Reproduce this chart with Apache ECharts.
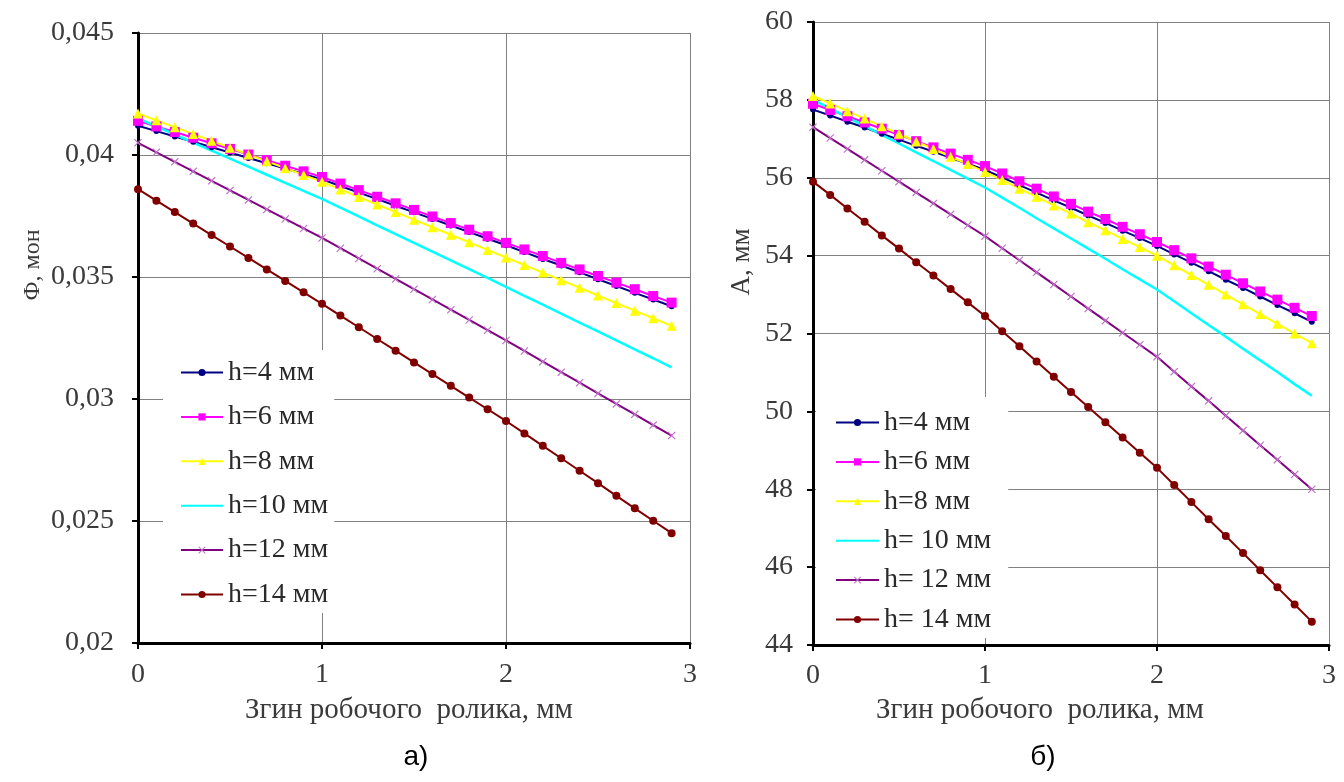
<!DOCTYPE html>
<html>
<head>
<meta charset="utf-8">
<script src="https://cdn.jsdelivr.net/npm/echarts@6/dist/echarts.min.js"></script>
<style>
html,body{margin:0;padding:0;background:#fff;}
#c{width:1344px;height:782px;}
</style>
</head>
<body>
<div id="c"></div>
<script>
// ---- data ----
const xs = [0,0.1,0.2,0.3,0.4,0.5,0.6,0.7,0.8,0.9,1.0,1.1,1.2,1.3,1.4,1.5,1.6,1.7,1.8,1.9,2.0,2.1,2.2,2.3,2.4,2.5,2.6,2.7,2.8,2.9];

const namesLeft  = ['h=4 мм','h=6 мм','h=8 мм','h=10 мм','h=12 мм','h=14 мм'];
const namesRight = ['h=4 мм','h=6 мм','h=8 мм','h= 10 мм','h= 12 мм','h= 14 мм'];

const phi4  = [0.04120,0.04098,0.04076,0.04054,0.04032,0.04010,0.03988,0.03966,0.03944,0.03922,0.03900,0.03873,0.03846,0.03819,0.03792,0.03765,0.03738,0.03711,0.03684,0.03657,0.03630,0.03602,0.03574,0.03547,0.03519,0.03491,0.03463,0.03435,0.03408,0.03380];
const phi6  = [0.04140,0.04117,0.04094,0.04071,0.04048,0.04025,0.04002,0.03979,0.03956,0.03933,0.03910,0.03883,0.03856,0.03829,0.03802,0.03775,0.03748,0.03721,0.03694,0.03667,0.03640,0.03613,0.03586,0.03558,0.03531,0.03504,0.03477,0.03450,0.03422,0.03395];
const phi8  = [0.04170,0.04142,0.04114,0.04086,0.04058,0.04030,0.04002,0.03974,0.03946,0.03918,0.03890,0.03859,0.03828,0.03797,0.03766,0.03735,0.03704,0.03673,0.03642,0.03611,0.03580,0.03549,0.03518,0.03487,0.03456,0.03424,0.03393,0.03362,0.03331,0.03300];
const phi10 = [0.04150,0.04117,0.04084,0.04051,0.04018,0.03985,0.03952,0.03919,0.03886,0.03853,0.03820,0.03784,0.03748,0.03712,0.03676,0.03640,0.03604,0.03568,0.03532,0.03496,0.03460,0.03423,0.03387,0.03350,0.03313,0.03277,0.03240,0.03203,0.03167,0.03130];
const phi12 = [0.04050,0.04011,0.03972,0.03933,0.03894,0.03855,0.03816,0.03777,0.03738,0.03699,0.03660,0.03618,0.03576,0.03534,0.03492,0.03450,0.03408,0.03366,0.03324,0.03282,0.03240,0.03197,0.03153,0.03110,0.03067,0.03023,0.02980,0.02937,0.02893,0.02850];
const phi14 = [0.03860,0.03813,0.03766,0.03719,0.03672,0.03625,0.03578,0.03531,0.03484,0.03437,0.03390,0.03342,0.03294,0.03246,0.03198,0.03150,0.03102,0.03054,0.03006,0.02958,0.02910,0.02859,0.02808,0.02757,0.02706,0.02655,0.02603,0.02552,0.02501,0.02450];

const a4  = [57.75,57.60,57.44,57.29,57.13,56.98,56.82,56.67,56.51,56.36,56.20,56.01,55.81,55.62,55.42,55.23,55.03,54.84,54.64,54.45,54.25,54.03,53.82,53.60,53.38,53.17,52.95,52.73,52.52,52.30];
const a6  = [57.90,57.74,57.58,57.42,57.26,57.10,56.94,56.78,56.62,56.46,56.30,56.11,55.91,55.72,55.52,55.33,55.13,54.94,54.74,54.55,54.35,54.14,53.93,53.72,53.51,53.29,53.08,52.87,52.66,52.45];
const a8  = [58.10,57.91,57.71,57.52,57.32,57.13,56.93,56.74,56.54,56.35,56.15,55.94,55.72,55.51,55.29,55.08,54.86,54.65,54.43,54.22,54.00,53.75,53.50,53.25,53.00,52.75,52.50,52.25,52.00,51.75];
const a10 = [58.00,57.78,57.55,57.33,57.10,56.88,56.65,56.43,56.20,55.98,55.75,55.49,55.23,54.96,54.70,54.44,54.18,53.92,53.65,53.39,53.13,52.83,52.52,52.22,51.92,51.61,51.31,51.01,50.70,50.40];
const a12 = [57.30,57.02,56.74,56.46,56.18,55.90,55.62,55.34,55.06,54.78,54.50,54.19,53.88,53.57,53.26,52.95,52.64,52.33,52.02,51.71,51.40,51.02,50.64,50.27,49.89,49.51,49.13,48.76,48.38,48.00];
const a14 = [55.90,55.56,55.21,54.87,54.52,54.18,53.83,53.49,53.14,52.80,52.45,52.06,51.67,51.28,50.89,50.50,50.11,49.72,49.33,48.94,48.55,48.11,47.67,47.23,46.80,46.36,45.92,45.48,45.04,44.60];

const xTitle = 'Згин робочого  ролика, мм';
const yTitleLeft = 'Ф, мон';
const yTitleRight = 'А, мм';
const captions = ['а)', 'б)'];

// ---- styles ----
const SERIF = '"Liberation Serif", "DejaVu Serif", serif';
const xMark = 'path://M1,0 L5,4 L9,0 L10,1 L6,5 L10,9 L9,10 L5,6 L1,10 L0,9 L4,5 L0,1 Z';
const styles = [
  {line:'#000080', sym:'circle', size:6, fill:'#000080'},
  {line:'#FF00FF', sym:'rect', size:10, fill:'#FF00FF'},
  {line:'#FFFF00', sym:'triangle', size:10, fill:'#FFFF00'},
  {line:'#00FFFF', sym:'none', size:0, fill:'#00FFFF'},
  {line:'#800080', sym:xMark, size:8, fill:'#c070c8'},
  {line:'#800000', sym:'circle', size:8, fill:'#800000'}
];
const leftData  = [phi4, phi6, phi8, phi10, phi12, phi14];
const rightData = [a4, a6, a8, a10, a12, a14];

function mkSeries(names, datas, axisIdx) {
  return datas.map((d, i) => ({
    name: names[i],
    type: 'line',
    xAxisIndex: axisIdx, yAxisIndex: axisIdx,
    data: xs.map((x, j) => [x, d[j]]),
    symbol: styles[i].sym,
    symbolSize: styles[i].size,
    showSymbol: styles[i].sym !== 'none',
    lineStyle: {color: styles[i].line, width: i === 3 ? 2.5 : 2},
    itemStyle: {color: styles[i].fill, borderWidth: 0},
    emphasis: {disabled: true},
    animation: false
  }));
}

function xAx(gridIndex, margin) {
  return {
    type: 'value', gridIndex, min: 0, max: 3, interval: 1,
    axisLine: {onZero: false, lineStyle: {color: '#000', width: 3}},
    axisTick: {show: true, length: 6, lineStyle: {color: '#000', width: 2}},
    axisLabel: {fontFamily: SERIF, fontSize: 28, color: '#3a3a3a', margin},
    splitLine: {show: true, lineStyle: {color: '#808080', width: 1}}
  };
}
function yAx(gridIndex, min, max, interval, fmt, margin) {
  return {
    type: 'value', gridIndex, min, max, interval,
    axisLine: {show: true, onZero: false, lineStyle: {color: '#000', width: 3}},
    axisTick: {show: true, length: 6, lineStyle: {color: '#000', width: 2}},
    axisLabel: {fontFamily: SERIF, fontSize: 28, color: '#3a3a3a', margin, formatter: fmt},
    splitLine: {show: true, lineStyle: {color: '#808080', width: 1}}
  };
}

const legendText = {fontFamily: SERIF, fontSize: 28, color: '#2a2a2a', lineHeight: 29};
function legendData(names) {
  return names.map((n, i) => i === 3 ? {name: n, itemStyle: {opacity: 0}} : {name: n});
}

const option = {
  backgroundColor: '#fff',
  animation: false,
  grid: [
    {left: 138, right: 654, top: 33, bottom: 139},
    {left: 813, right: 15, top: 22, bottom: 137}
  ],
  xAxis: [xAx(0, 18), xAx(1, 17)],
  yAxis: [
    yAx(0, 0.02, 0.045, 0.005, v => String(Math.round(v * 1000) / 1000).replace('.', ','), 24),
    yAx(1, 44, 60, 2, v => String(v), 20)
  ],
  legend: [
    {
      data: legendData(namesLeft), orient: 'vertical', left: 163, top: 350,
      padding: [8, 6, 4, 17], itemGap: 15.4, itemWidth: 42, itemHeight: 9,
      backgroundColor: '#fff', textStyle: legendText, selectedMode: false
    },
    {
      data: legendData(namesRight), orient: 'vertical', left: 816, top: 397,
      padding: [11, 17, 4, 19], itemGap: 10.4, itemWidth: 43, itemHeight: 9,
      backgroundColor: '#fff', textStyle: legendText, selectedMode: false
    }
  ],
  series: [].concat(mkSeries(namesLeft, leftData, 0), mkSeries(namesRight, rightData, 1)),
  graphic: [
    {type: 'text', x: 33, y: 265, rotation: Math.PI / 2,
     style: {text: yTitleLeft, font: '24px ' + SERIF, fill: '#3a3a3a', align: 'center', verticalAlign: 'middle'}},
    {type: 'text', x: 742, y: 262, rotation: Math.PI / 2,
     style: {text: yTitleRight, font: '27px ' + SERIF, fill: '#3a3a3a', align: 'center', verticalAlign: 'middle'}},
    {type: 'text', x: 409, y: 710,
     style: {text: xTitle, font: '29px ' + SERIF, fill: '#3a3a3a', align: 'center', verticalAlign: 'middle'}},
    {type: 'text', x: 1040, y: 710,
     style: {text: xTitle, font: '29px ' + SERIF, fill: '#3a3a3a', align: 'center', verticalAlign: 'middle'}},
    {type: 'text', x: 416, y: 757,
     style: {text: captions[0], font: '28px "Liberation Sans", sans-serif', fill: '#000', align: 'center', verticalAlign: 'middle'}},
    {type: 'text', x: 1043, y: 757,
     style: {text: captions[1], font: '28px "Liberation Sans", sans-serif', fill: '#000', align: 'center', verticalAlign: 'middle'}}
  ]
};

const chart = echarts.init(document.getElementById('c'), null, {renderer: 'canvas'});
chart.setOption(option);
</script>
</body>
</html>
